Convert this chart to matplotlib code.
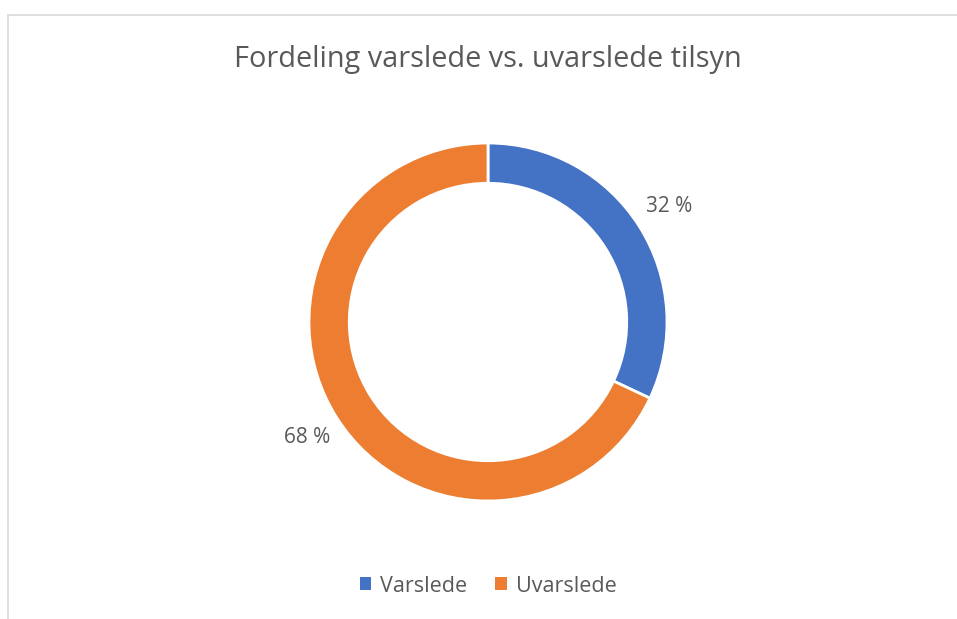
import matplotlib.pyplot as plt
from matplotlib.patches import Rectangle, Patch

categories = ["Varslede", "Uvarslede"]
shares = [32, 68]
labels = ["32 %", "68 %"]
colors = ["#4472C4", "#ED7D31"]
title = "Fordeling varslede vs. uvarslede tilsyn"

plt.rcParams['font.family'] = ['Open Sans', 'DejaVu Sans']
text_col = "#595959"

W, H = 957, 619
fig = plt.figure(figsize=(W / 100, H / 100), dpi=100)

# light grey chart border (only top and left show in the crop)
fig.patches.append(Rectangle((8 / W, -0.1), 1.2, (H - 15) / H + 0.1,
                             transform=fig.transFigure, fill=False,
                             edgecolor="#D9D9D9", linewidth=1.2))

cx, cy, r = 488, 322, 179
ax = fig.add_axes([(cx - r) / W, (H - cy - r) / H, 2 * r / W, 2 * r / H])
ax.pie(shares, labels=labels, colors=colors, startangle=90, counterclock=False,
       radius=1, labeldistance=1.2,
       wedgeprops=dict(width=0.225, edgecolor="white", linewidth=2),
       textprops=dict(color=text_col, fontsize=15, ha="center", va="center"))
ax.set_xlim(-1, 1)
ax.set_ylim(-1, 1)
ax.set_aspect("equal")
ax.axis("off")

fig.text(cx / W, 1 - 60 / H, title, ha="center", va="center",
         fontsize=20.8, color=text_col)

handles = [Patch(facecolor=c, edgecolor="none") for c in colors]
fig.legend(handles, categories, loc="center", bbox_to_anchor=(cx / W, 1 - 586 / H),
           ncol=2, frameon=False, fontsize=15.5, labelcolor=text_col,
           handlelength=0.55, handleheight=0.55, handletextpad=0.4, columnspacing=1.3)

fig.savefig("out.png", dpi=100)
